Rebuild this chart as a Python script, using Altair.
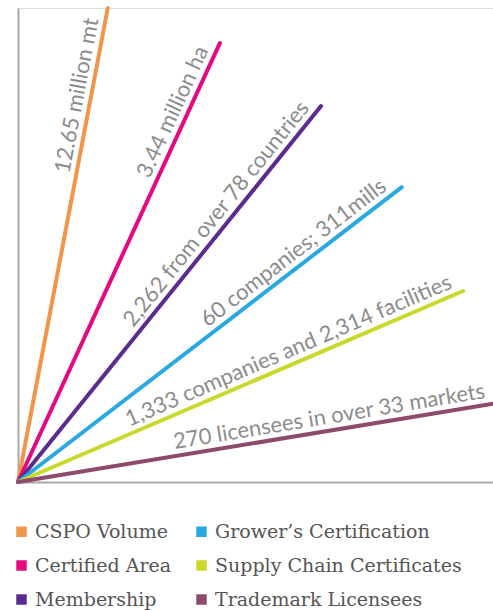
import math
import altair as alt
import pandas as pd

# ---- data ----
categories = ["CSPO Volume", "Certified Area", "Membership",
              "Grower’s Certification", "Supply Chain Certificates", "Trademark Licensees"]
labels = ["12.65  million mt", "3.44 million ha", "2,262 from over 78 countries",
          "60 companies; 311mills", "1,333 companies and 2,314 facilities",
          "270 licensees in over 33 markets"]
end_x = [18.9, 42.5, 63.8, 80.8, 93.7, 100.0]
end_y = [100.0, 92.6, 79.3, 62.2, 40.3, 16.5]
label_frac = [0.81, 0.83, 0.69, 0.74, 0.62, 0.66]
colors = ["#F0954A", "#E5097F", "#5B2C8F", "#29A9E0", "#C9D92B", "#8E4A6C"]

W, H = 475, 474

rows = []
for c, lab, ex, ey, f in zip(categories, labels, end_x, end_y, label_frac):
    px, py = ex / 100 * W, ey / 100 * H
    ang = (360 - math.degrees(math.atan2(py, px))) % 360
    rows.append({"cat": c, "label": lab, "x0": 0.0, "y0": 0.0,
                 "ex": ex, "ey": ey, "lx": ex * f, "ly": ey * f, "angle": ang})
df = pd.DataFrame(rows)

xs = alt.Scale(domain=[0, 100], nice=False, zero=True)
ys = alt.Scale(domain=[0, 100], nice=False, zero=True)
ax = alt.Axis(labels=False, ticks=False, grid=False, title=None,
              domainColor="#A8A8A8", domainWidth=2)
color_scale = alt.Scale(domain=categories, range=colors)

base = alt.Chart(df)

legend_pts = base.mark_point(filled=True, shape="square", size=2, opacity=1).encode(
    x=alt.X("x0:Q", scale=xs, axis=ax),
    y=alt.Y("y0:Q", scale=ys, axis=ax),
    color=alt.Color("cat:N", scale=color_scale,
                    legend=alt.Legend(title=None, orient="none", legendX=-6, legendY=514,
                                      columns=2, symbolType="square", symbolSize=110,
                                      symbolStrokeWidth=0, labelFont="DejaVu Serif",
                                      labelFontSize=19, labelColor="#555555",
                                      rowPadding=14, columnPadding=20, padding=0,
                                      labelOffset=4, labelLimit=300)),
)

lines = base.mark_rule(strokeWidth=4, strokeCap="round").encode(
    x=alt.X("x0:Q", scale=xs, axis=ax),
    y=alt.Y("y0:Q", scale=ys, axis=ax),
    x2="ex:Q",
    y2="ey:Q",
    color=alt.Color("cat:N", scale=color_scale, legend=None),
)

texts = base.mark_text(font="Lato", fontSize=22, color="#8C8C8C", align="center",
                       baseline="alphabetic", dy=-7).encode(
    x=alt.X("lx:Q", scale=xs),
    y=alt.Y("ly:Q", scale=ys),
    angle=alt.Angle("angle:Q", scale=None),
    text="label:N",
)

chart = alt.layer(legend_pts, lines, texts).properties(
    width=W, height=H,
    autosize=alt.AutoSizeParams(type="none"),
    padding={"left": 18, "top": 8, "right": 0, "bottom": 128},
).configure_view(stroke=None).configure(background="white")

chart.save("out.html", embed_options={"renderer": "svg", "actions": False})
